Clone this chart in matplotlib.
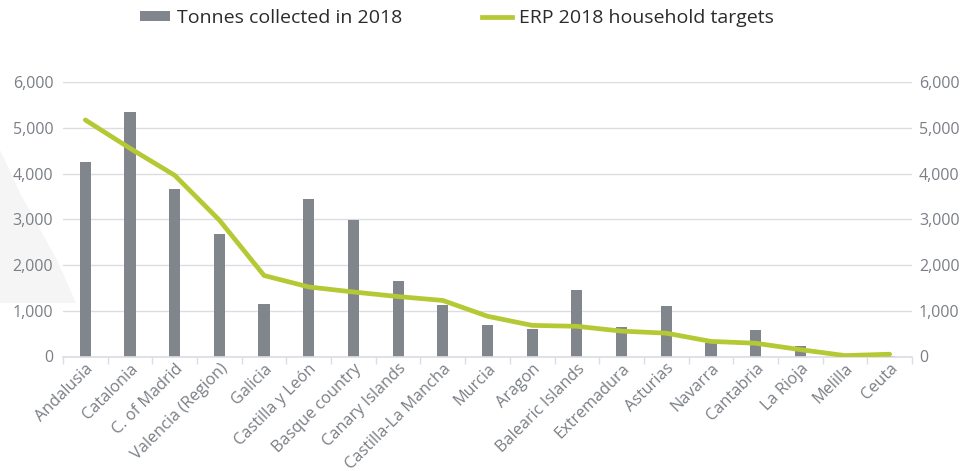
import matplotlib
matplotlib.use("Agg")
from matplotlib import pyplot as plt
from matplotlib.patches import Polygon
from matplotlib.lines import Line2D
from matplotlib.patches import Patch
from matplotlib.ticker import FuncFormatter, MultipleLocator

### data ###

regions = ["Andalusia", "Catalonia", "C. of Madrid", "Valencia (Region)", "Galicia",
           "Castilla y León", "Basque country", "Canary Islands", "Castilla-La Mancha",
           "Murcia", "Aragon", "Balearic Islands", "Extremadura", "Asturias", "Navarra",
           "Cantabria", "La Rioja", "Melilla", "Ceuta"]

tonnes_2018 = [4250, 5350, 3670, 2670, 1140, 3450, 2990, 1660, 1130,
               690, 600, 1445, 635, 1095, 300, 590, 240, 5, 15]

erp_targets = [5170, 4550, 3960, 2980, 1770, 1520, 1410, 1310, 1225,
               880, 680, 660, 555, 510, 330, 290, 150, 20, 50]

legend_labels = ["Tonnes collected in 2018", "ERP 2018 household targets"]

### style ###

bar_col = "#80868b"
line_col = "#b5c935"
grid_col = "#dcdde3"
tick_col = "#7a7f85"

plt.rcParams['font.family'] = ['Open Sans', 'DejaVu Sans']

fig = plt.figure(figsize=(9.6, 4.71), dpi=100)

# faint background shape on the left
bg = Polygon([[0, 1 - 150/471], [20/960, 1 - 193/471], [57/960, 1 - 260/471],
              [76/960, 1 - 303/471], [0, 1 - 303/471]],
             closed=True, transform=fig.transFigure,
             facecolor="#f5f5f5", edgecolor="none", zorder=-5)
fig.patches.append(bg)

ax = fig.add_axes([63/960, 1 - 356.5/471, (912 - 63)/960, (356.5 - 82)/471])
ax.patch.set_alpha(0)

x = list(range(len(regions)))
ax.bar(x, tonnes_2018, width=0.25, color=bar_col, zorder=2)
ax.plot(x, erp_targets, color=line_col, lw=3.4, solid_capstyle='round',
        solid_joinstyle='round', zorder=3)

ax.set_xlim(-0.5, len(regions) - 0.5)
ax.set_ylim(0, 6000)
ax.yaxis.set_major_locator(MultipleLocator(1000))
fmt = FuncFormatter(lambda v, p: f"{int(v):,}")
ax.yaxis.set_major_formatter(fmt)
ax.grid(axis='y', color=grid_col, lw=1, zorder=0)
ax.set_axisbelow(True)

for s in ["top", "right", "left"]:
    ax.spines[s].set_visible(False)
ax.spines["bottom"].set_color(grid_col)
ax.spines["bottom"].set_linewidth(1.2)

ax.tick_params(axis='y', length=0, pad=7, labelsize=11.5, labelcolor=tick_col)
ax.set_xticks(x)
ax.set_xticklabels(regions, rotation=45, ha='right', rotation_mode='anchor',
                   fontsize=11.7, color=tick_col)
ax.tick_params(axis='x', length=0, pad=3)
# small boundary ticks between categories
ax.set_xticks([i - 0.5 for i in range(len(regions) + 1)], minor=True)
ax.tick_params(axis='x', which='minor', length=5, color=grid_col, width=1)

ax2 = ax.twinx()
ax2.set_ylim(0, 6000)
ax2.yaxis.set_major_locator(MultipleLocator(1000))
ax2.yaxis.set_major_formatter(fmt)
ax2.tick_params(axis='y', length=0, pad=5, labelsize=11.5, labelcolor=tick_col)
for s in ax2.spines.values():
    s.set_visible(False)

handles = [Patch(facecolor=bar_col, edgecolor='none'),
           Line2D([0], [0], color=line_col, lw=3.4)]
fig.legend(handles, legend_labels, loc='center left', bbox_to_anchor=(140/960, 1 - 18/471),
           ncol=2, frameon=False, handlelength=1.55, handleheight=0.36,
           columnspacing=4.1, handletextpad=0.35, borderpad=0, borderaxespad=0,
           labelcolor="#2b2b2b", fontsize=14)

plt.savefig("out.png", dpi=100)
plt.close()
